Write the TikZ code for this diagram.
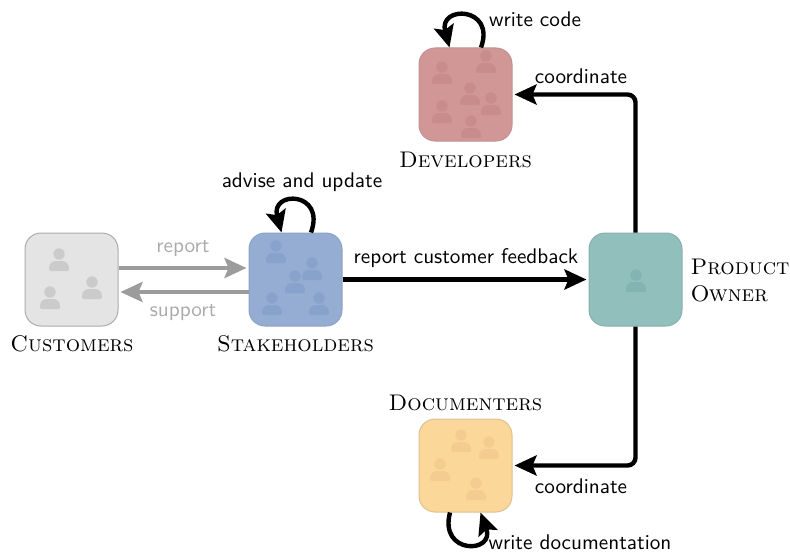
\documentclass[tikz,border=0pt]{standalone}
\usepackage{xcolor}
\usetikzlibrary{arrows.meta}
\usetikzlibrary{positioning}

\definecolor{custfill}{HTML}{E4E4E4}
\definecolor{custdraw}{HTML}{ABABAB}
\definecolor{custman}{HTML}{CBCBCB}
\definecolor{stakefill}{HTML}{95ADD3}
\definecolor{stakedraw}{HTML}{8DA2C4}
\definecolor{stakeman}{HTML}{88A2CB}
\definecolor{ownerfill}{HTML}{90BFBC}
\definecolor{ownerdraw}{HTML}{89B0AE}
\definecolor{ownerman}{HTML}{84B4B1}
\definecolor{devfill}{HTML}{D19797}
\definecolor{devdraw}{HTML}{C09292}
\definecolor{devman}{HTML}{C98C8C}
\definecolor{docfill}{HTML}{FCD79A}
\definecolor{docdraw}{HTML}{DEC095}
\definecolor{docman}{HTML}{F4CB90}
\definecolor{faded}{HTML}{9C9C9C}

\tikzset{
	team/.style={draw,rounded corners=8pt,minimum size=46.5pt,inner sep=0pt,line width=0.5pt},
	flow/.style={-{Stealth[length=11pt,width=10pt,inset=2pt]},line width=2.2pt,rounded corners=4pt,shorten >=1pt},
	fadedflow/.style={flow,faded,line width=2pt},
	selfloop/.style={flow,distance=22pt,shorten >=0pt},
	caption/.style={font=\fontsize{10.6}{12.7}\selectfont\sffamily,inner sep=0pt},
	fadedcaption/.style={caption,text=faded!85},
	rolename/.style={font=\fontsize{11.3}{13.5}\selectfont,inner sep=0pt,align=left}
}

\newcommand{\drawman}[3]{
	\fill[#1,shift={(#2,#3)}] (0,0) circle [radius=5.7];
	\fill[#1,shift={(#2,#3)}] (-8,17) .. controls (-10,17) and (-10,16) .. (-10,14) .. controls (-10,9) and (-6,7) .. (-3,7) -- (3,7) .. controls (6,7) and (10,9) .. (10,14) .. controls (10,16) and (10,17) .. (8,17) -- cycle;
}

\begin{document}
\begin{tikzpicture}[x=0.5pt,y=-0.5pt]
	\useasboundingbox (0,0) rectangle (790,551);

	% draw teams
	\node (customers) at (71.5,279.5) [team,fill=custfill,draw=custdraw] {};
	\node (stakeholders) at (295.5,279.5) [team,fill=stakefill,draw=stakedraw] {};
	\node (owner) at (635.5,279.5) [team,fill=ownerfill,draw=ownerdraw] {};
	\node (developers) at (465.5,94.5) [team,fill=devfill,draw=devdraw] {};
	\node (documenters) at (465.5,465.5) [team,fill=docfill,draw=docdraw] {};

	% draw people inside the teams
	\foreach \x/\y in {59/254,92/282,50/292}
	{
		\drawman{custman}{\x}{\y}
	}
	\foreach \x/\y in {276/246,312/263,295/276,272/298,319/298}
	{
		\drawman{stakeman}{\x}{\y}
	}
	\drawman{ownerman}{636}{275}
	\foreach \x/\y in {442/67,486/56,470/88,491/98,442/106,471/121}
	{
		\drawman{devman}{\x}{\y}
	}
	\foreach \x/\y in {461/435,489/442,440/464,476/483}
	{
		\drawman{docman}{\x}{\y}
	}

	% draw team names
	\node (customersname) at (72,344) [rolename] {\textsc{Customers}};
	\node (stakeholdersname) at (295.5,344) [rolename] {\textsc{Stakeholders}};
	\node (developersname) at (465.5,160) [rolename] {\textsc{Developers}};
	\node (documentersname) at (465.5,403) [rolename] {\textsc{Documenters}};
	\node (ownername) at (740,280.5) [rolename] {\textsc{Product}\\\textsc{Owner}};

	% draw lines between teams
	\draw[fadedflow] ([yshift=5.75pt]customers.east) to ([yshift=5.75pt]stakeholders.west);
	\draw[fadedflow] ([yshift=-6.25pt]stakeholders.west) to ([yshift=-6.25pt]customers.east);
	\draw[flow] (stakeholders) to (owner);
	\draw[flow] (owner) |- (developers);
	\draw[flow] (owner) |- (documenters);

	% draw loops
	\draw[selfloop,out=70,in=105] ([xshift=7.75pt]developers.north) to ([xshift=-8pt]developers.north);
	\draw[selfloop,out=70,in=105] ([xshift=7.75pt]stakeholders.north) to ([xshift=-7pt]stakeholders.north);
	\draw[selfloop,out=-105,in=-70] ([xshift=-7.75pt]documenters.south) to ([xshift=7.5pt]documenters.south);

	% draw labels
	\node (reportlabel) at (183,248) [fadedcaption] {report};
	\node (supportlabel) at (183,312) [fadedcaption] {support};
	\node (adviselabel) at (302,182) [caption] {advise and update};
	\node (feedbacklabel) at (466,258) [caption] {report customer feedback};
	\node (codelabel) at (535,19) [caption] {write code};
	\node (devlabel) at (581,76) [caption] {coordinate};
	\node (doclabel) at (581,486) [caption] {coordinate};
	\node (writedoclabel) at (580,542) [caption] {write documentation};
\end{tikzpicture}
\end{document}
